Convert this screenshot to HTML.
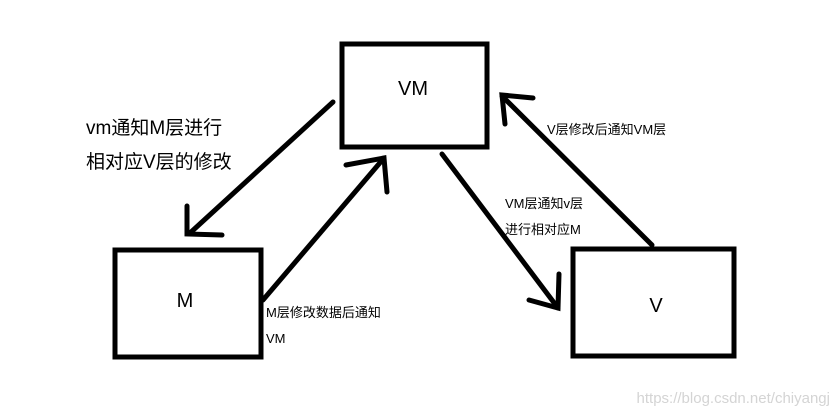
<!DOCTYPE html>
<html><head><meta charset="utf-8"><style>
html,body{margin:0;padding:0;background:#fff;}
svg{display:block}
text{font-family:"Liberation Sans","Noto Sans CJK SC",sans-serif;fill:#000}
</style></head><body>
<svg width="840" height="417" viewBox="0 0 840 417" xmlns="http://www.w3.org/2000/svg">
<g fill="none" stroke="#000" stroke-width="5" stroke-linecap="round">
<rect x="342" y="44" width="145" height="103" stroke-linecap="butt"/>
<rect x="115" y="250" width="146" height="107" stroke-linecap="butt"/>
<rect x="573" y="249" width="161" height="107" stroke-linecap="butt"/>
<line x1="333" y1="102" x2="190" y2="233"/>
<polyline points="187,206 187,234 222,235"/>
<line x1="263" y1="300" x2="384" y2="158"/>
<polyline points="346,165 384,158 387,192"/>
<line x1="442" y1="154" x2="558" y2="308"/>
<polyline points="559,274 558,308 529,300"/>
<line x1="652" y1="245" x2="502" y2="96"/>
<polyline points="533,98 502,95 505,124"/>
</g>
<text x="413" y="95" font-size="20" text-anchor="middle">VM</text>
<text x="185" y="307" font-size="20" text-anchor="middle">M</text>
<text x="656" y="312" font-size="20" text-anchor="middle">V</text>
<text x="86" y="134" font-size="19">vm通知M层进行</text>
<text x="86" y="168" font-size="19">相对应V层的修改</text>
<text x="266" y="317" font-size="13">M层修改数据后通知</text>
<text x="266" y="343" font-size="13">VM</text>
<text x="547" y="134" font-size="13">V层修改后通知VM层</text>
<text x="505" y="208" font-size="13">VM层通知v层</text>
<text x="505" y="234" font-size="13">进行相对应M</text>
<text x="830" y="403" font-size="15" text-anchor="end" style="fill:#d4d4d4">https://blog.csdn.net/chiyangj</text>
</svg>
</body></html>
